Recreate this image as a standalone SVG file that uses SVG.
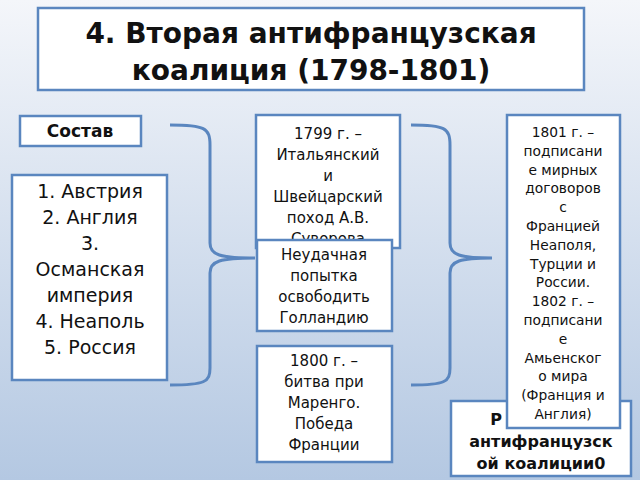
<svg xmlns="http://www.w3.org/2000/svg" width="640" height="480" viewBox="0 0 640 480">
<defs>
<linearGradient id="bg" x1="0" y1="0" x2="0" y2="1"><stop offset="0" stop-color="#f4f6fa"/><stop offset="1" stop-color="#b4c8e2"/></linearGradient>
<clipPath id="cl"><rect x="451" y="401" width="55" height="40"/></clipPath>
</defs>
<style>
.b{fill:#fff;stroke:#5a86bf;stroke-width:2.5}
text{font-family:"DejaVu Sans",sans-serif;fill:#111;text-anchor:middle}
.br{fill:none;stroke:#5a86bf;stroke-width:3}
</style>
<rect width="640" height="480" fill="url(#bg)"/>
<g id="title"><rect class="b" x="38" y="8" width="546" height="82"/>
<text x="311" y="43" font-size="28" font-weight="bold">4. Вторая антифранцузская</text>
<text x="311" y="80" font-size="28" font-weight="bold">коалиция (1798-1801)</text></g>
<g id="sostav"><rect class="b" x="20" y="116" width="121" height="30"/>
<text x="80" y="137" font-size="17" font-weight="bold">Состав</text></g>
<g id="list"><rect class="b" x="12" y="175" width="155" height="205"/>
<g font-size="19"><text x="90" y="198">1. Австрия</text><text x="90" y="224">2. Англия</text><text x="90" y="250">3.</text><text x="90" y="276">Османская</text><text x="90" y="302">империя</text><text x="90" y="328">4. Неаполь</text><text x="90" y="354">5. Россия</text></g></g>
<g id="connectors">
<path class="br" d="M170,125 C205,125 210,128 210,145 L210,243 C210,255 220,258 255,258 C220,258 210,261 210,273 L210,368 C210,382 205,385 170,385"/>
<path class="br" d="M411,125 C445,125 450,128 450,145 L450,243 C450,255 460,258 492,258 C460,258 450,261 450,273 L450,368 C450,382 445,385 411,385"/>
</g>
<g id="n1799"><rect class="b" x="256" y="115" width="144" height="133"/>
<g font-size="15"><text x="328" y="139">1799 г. –</text><text x="328" y="160">Итальянский</text><text x="328" y="181">и</text><text x="328" y="202">Швейцарский</text><text x="328" y="223">поход А.В.</text><text x="328" y="244">Суворова</text></g></g>
<g id="nfail"><rect class="b" x="257" y="240" width="135" height="91"/>
<g font-size="15"><text x="324" y="260">Неудачная</text><text x="324" y="281">попытка</text><text x="324" y="302">освободить</text><text x="324" y="323">Голландию</text></g></g>
<g id="n1800"><rect class="b" x="257" y="346" width="135" height="116"/>
<g font-size="15"><text x="324" y="366">1800 г. –</text><text x="324" y="387">битва при</text><text x="324" y="408">Маренго.</text><text x="324" y="429">Победа</text><text x="324" y="450">Франции</text></g></g>
<g id="result"><rect class="b" x="451" y="401" width="180" height="75"/>
<g font-size="16" font-weight="bold"><text x="496" y="425" text-anchor="start" clip-path="url(#cl)">Р</text><text x="541" y="447">антифранцузск</text><text x="541" y="469">ой коалиции0</text></g></g>
<g id="n1801"><rect class="b" x="507" y="115" width="113" height="313"/>
<g font-size="13.8"><text x="563" y="137">1801 г. –</text><text x="563" y="155.8">подписани</text><text x="563" y="174.6">е мирных</text><text x="563" y="193.4">договоров</text><text x="563" y="212.2">с</text><text x="563" y="231">Францией</text><text x="563" y="249.8">Неаполя,</text><text x="563" y="268.6">Турции и</text><text x="563" y="287.4">России.</text><text x="563" y="306.2">1802 г. –</text><text x="563" y="325">подписани</text><text x="563" y="343.8">е</text><text x="563" y="362.6">Амьенског</text><text x="563" y="381.4">о мира</text><text x="563" y="400.2">(Франция и</text><text x="563" y="419">Англия)</text></g></g>
</svg>
